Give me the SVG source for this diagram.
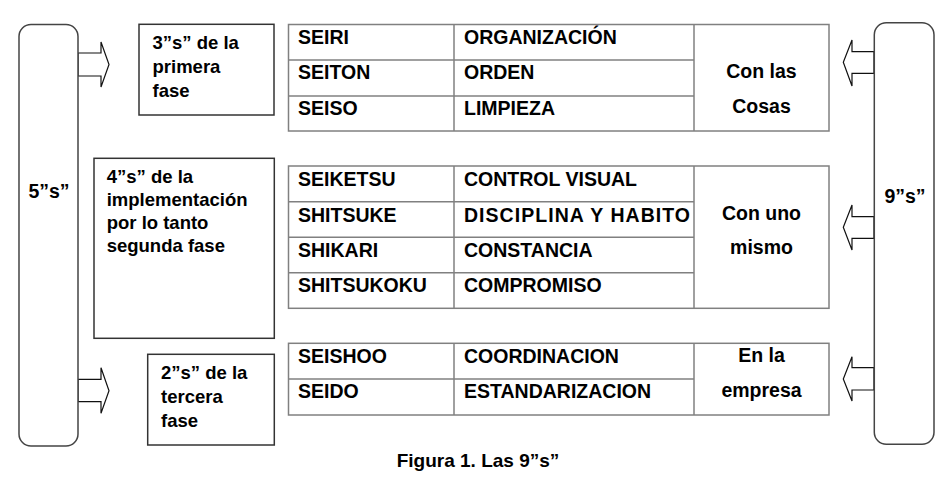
<svg xmlns="http://www.w3.org/2000/svg" width="945" height="501" viewBox="0 0 945 501">
<style>
text{font-family:"Liberation Sans",Arial,sans-serif;font-weight:bold;fill:#000}
.t{font-size:19.5px}
.b{font-size:18.5px}
.c{font-size:19.5px;text-anchor:middle}
.grid{fill:none;stroke:#808080;stroke-width:1.5}
.box{fill:#fff;stroke:#333;stroke-width:1.5}
.side{fill:#fff;stroke:#444;stroke-width:1.5}
.arr{fill:#fff;stroke:#111;stroke-width:1.2;stroke-linejoin:miter}
</style>
<rect width="945" height="501" fill="#fff"/>

<g id="connectors">
<polygon class="arr" points="78,53 101,53 101,42 109,64.5 101,87 101,76 78,76"/>
<polygon class="arr" points="78,379.3 101,379.3 101,367.7 109,390.7 101,413.3 101,401.7 78,401.7"/>
<polygon class="arr" points="874,51.7 852,51.7 852,40 843.3,62.3 852,86 852,73.3 874,73.3"/>
<polygon class="arr" points="874,216.7 852,216.7 852,205 843.3,227.3 852,250 852,238.3 874,238.3"/>
<polygon class="arr" points="874,367.7 852,367.7 852,356.7 843.3,379 852,401 852,390 874,390"/>
</g>

<g id="left5s">
<rect class="side" x="19" y="24.5" width="59" height="421.5" rx="12" ry="12"/>
<text class="c" x="49" y="197.5">5”s”</text>
</g>

<g id="right9s">
<rect class="side" x="874.3" y="22.7" width="59.7" height="421.6" rx="12" ry="12"/>
<text class="c" x="905" y="202.5">9”s”</text>
</g>

<g id="fase1">
<rect class="box" x="139" y="24.3" width="135" height="90.7"/>
<text class="b" x="152.5" y="49.3">3”s” de la</text>
<text class="b" x="152.5" y="72.8">primera</text>
<text class="b" x="152.5" y="96.5">fase</text>
</g>

<g id="fase2">
<rect class="box" x="94" y="158.3" width="180.3" height="180"/>
<text class="b" x="106.7" y="183.3">4”s” de la</text>
<text class="b" x="106.7" y="206">implementación</text>
<text class="b" x="106.7" y="229">por lo tanto</text>
<text class="b" x="106.7" y="251.7">segunda fase</text>
</g>

<g id="fase3">
<rect class="box" x="147.7" y="354.3" width="126.6" height="90.7"/>
<text class="b" x="161" y="379.3">2”s” de la</text>
<text class="b" x="161" y="402.7">tercera</text>
<text class="b" x="161" y="426.5">fase</text>
</g>

<g id="tabla1">
<rect class="grid" x="288.5" y="24.5" width="540.5" height="106.5"/>
<line class="grid" x1="454" y1="24.5" x2="454" y2="131"/>
<line class="grid" x1="694" y1="24.5" x2="694" y2="131"/>
<line class="grid" x1="288.5" y1="60" x2="694" y2="60"/>
<line class="grid" x1="288.5" y1="96" x2="694" y2="96"/>
<text class="t" x="298" y="44">SEIRI</text>
<text class="t" x="464" y="44">ORGANIZACIÓN</text>
<text class="t" x="298" y="79">SEITON</text>
<text class="t" x="464" y="79">ORDEN</text>
<text class="t" x="298" y="114.5">SEISO</text>
<text class="t" x="464" y="114.5">LIMPIEZA</text>
<text class="c" x="761.5" y="78.3">Con las</text>
<text class="c" x="761.5" y="112.7">Cosas</text>
</g>

<g id="tabla2">
<rect class="grid" x="288.5" y="166" width="540.5" height="142.3"/>
<line class="grid" x1="454" y1="166" x2="454" y2="308.3"/>
<line class="grid" x1="694" y1="166" x2="694" y2="308.3"/>
<line class="grid" x1="288.5" y1="201.7" x2="694" y2="201.7"/>
<line class="grid" x1="288.5" y1="237.3" x2="694" y2="237.3"/>
<line class="grid" x1="288.5" y1="272.7" x2="694" y2="272.7"/>
<text class="t" x="298" y="185.7">SEIKETSU</text>
<text class="t" x="464" y="185.7">CONTROL VISUAL</text>
<text class="t" x="298" y="221.5">SHITSUKE</text>
<text class="t" x="464" y="221.5" textLength="226" lengthAdjust="spacing">DISCIPLINA Y HABITO</text>
<text class="t" x="298" y="256.7">SHIKARI</text>
<text class="t" x="464" y="256.7">CONSTANCIA</text>
<text class="t" x="298" y="291.7">SHITSUKOKU</text>
<text class="t" x="464" y="291.7">COMPROMISO</text>
<text class="c" x="761.5" y="220">Con uno</text>
<text class="c" x="761.5" y="254">mismo</text>
</g>

<g id="tabla3">
<rect class="grid" x="288.5" y="343.3" width="540.5" height="71.7"/>
<line class="grid" x1="454" y1="343.3" x2="454" y2="415"/>
<line class="grid" x1="694" y1="343.3" x2="694" y2="415"/>
<line class="grid" x1="288.5" y1="379" x2="694" y2="379"/>
<text class="t" x="298" y="363.3">SEISHOO</text>
<text class="t" x="464" y="363.3">COORDINACION</text>
<text class="t" x="298" y="398.3">SEIDO</text>
<text class="t" x="464" y="398.3">ESTANDARIZACION</text>
<text class="c" x="761.5" y="362.3">En la</text>
<text class="c" x="761.5" y="396.5">empresa</text>
</g>

<g id="caption">
<text x="478" y="466.7" style="font-size:19px;text-anchor:middle">Figura 1. Las 9”s”</text>
</g>
</svg>
